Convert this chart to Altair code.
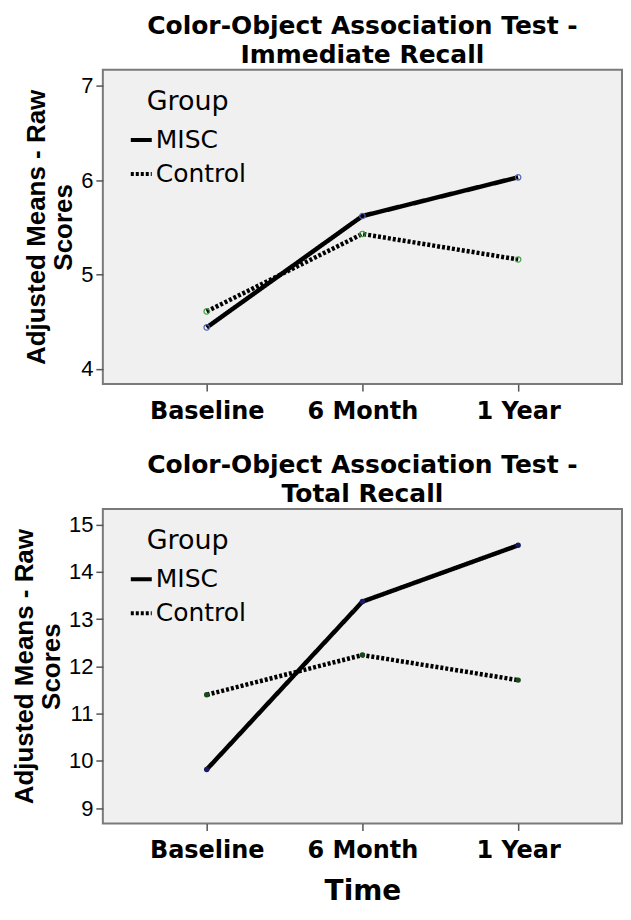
import altair as alt
import pandas as pd

times = ["Baseline", "6 Month", "1 Year"]
groups = ["MISC", "Control"]

immediate_misc = [4.44, 5.62, 6.03]
immediate_control = [4.61, 5.43, 5.16]
total_misc = [9.82, 13.37, 14.56]
total_control = [11.40, 12.24, 11.71]

immediate_ticks = [4, 5, 6, 7]
total_ticks = [9, 10, 11, 12, 13, 14, 15]

FONT = "DejaVu Sans"
YFONT = "Liberation Sans"


def make_df(misc, control):
    rows = []
    for t, v in zip(times, misc):
        rows.append({"Time": t, "Group": "MISC", "Score": v})
    for t, v in zip(times, control):
        rows.append({"Time": t, "Group": "Control", "Score": v})
    return pd.DataFrame(rows)


def panel(df, title_lines, domain, ticks, xtitle, point_colors, filled):
    base = alt.Chart(df)
    x_axis = alt.Axis(
        labelFontSize=24, labelFontWeight="bold", labelAngle=0, labelPadding=8,
        labelFont=FONT, titleFont=FONT,
        titleFontSize=28, titleFontWeight="bold", titlePadding=15,
    )
    if xtitle:
        x = alt.X("Time:N", sort=times, title="Time",
                  scale=alt.Scale(type="point", padding=0.667), axis=x_axis)
    else:
        x = alt.X("Time:N", sort=times, title=None,
                  scale=alt.Scale(type="point", padding=0.667), axis=x_axis)
    y = alt.Y(
        "Score:Q",
        scale=alt.Scale(domain=domain, nice=False, zero=False),
        axis=alt.Axis(values=ticks, labelFontSize=22, labelFont=YFONT,
                      titleFont=YFONT, titleFontSize=26,
                      titleFontWeight="bold", titleLineHeight=27,
                      titlePadding=4, labelPadding=3),
        title=["Adjusted Means - Raw", "Scores"],
    )
    lines = base.mark_line(strokeWidth=4.5, color="black").encode(
        x=x, y=y,
        strokeDash=alt.StrokeDash(
            "Group:N",
            scale=alt.Scale(domain=groups, range=[[1, 0], [3, 2]]),
            legend=alt.Legend(
                title="Group", orient="none", legendX=26, legendY=19,
                titleFontSize=27, titleFontWeight="normal", titleFont=FONT,
                titleAnchor="middle", titlePadding=12,
                labelFontSize=25, labelFont=FONT, labelOffset=2,
                symbolType="stroke", symbolStrokeWidth=4, symbolSize=441,
                symbolStrokeColor="black", rowPadding=8,
                titleColor="black", labelColor="black",
            ),
            sort=groups,
        ),
    )
    layers = [lines]
    for g, c in zip(groups, point_colors):
        layers.append(
            base.transform_filter(alt.datum.Group == g)
            .mark_point(size=30, filled=filled, strokeWidth=1.2, opacity=1, color=c)
            .encode(x=x, y=y)
        )
    return alt.layer(*layers).properties(
        width=520, height=315,
        title=alt.TitleParams(
            text=title_lines, fontSize=25, fontWeight="bold", font=FONT,
            lineHeight=29, anchor="middle", frame="group", offset=2, color="black",
        ),
    )


top = panel(make_df(immediate_misc, immediate_control),
            ["Color-Object Association Test -", "Immediate Recall"],
            [3.84, 7.17], immediate_ticks, False, ["#5060b0", "#40a040"], False)
bottom = panel(make_df(total_misc, total_control),
               ["Color-Object Association Test -", "Total Recall"],
               [8.68, 15.33], total_ticks, True, ["#1a1a60", "#1a4a1a"], True)

chart = alt.vconcat(top, bottom, spacing=28).resolve_scale(
    strokeDash="independent"
).resolve_legend(
    strokeDash="independent"
).properties(
    padding={"left": 2, "top": 4, "right": 0, "bottom": 2},
    background="white",
).configure_view(
    fill="#f0f0f0", stroke="#7a7a7a", strokeWidth=2,
).configure_axis(
    labelColor="black", titleColor="black",
    domain=False, grid=False, tickColor="#555555", tickSize=7, tickWidth=1.5,
)

chart.save("out.html", embed_options={"renderer": "svg", "actions": False})
